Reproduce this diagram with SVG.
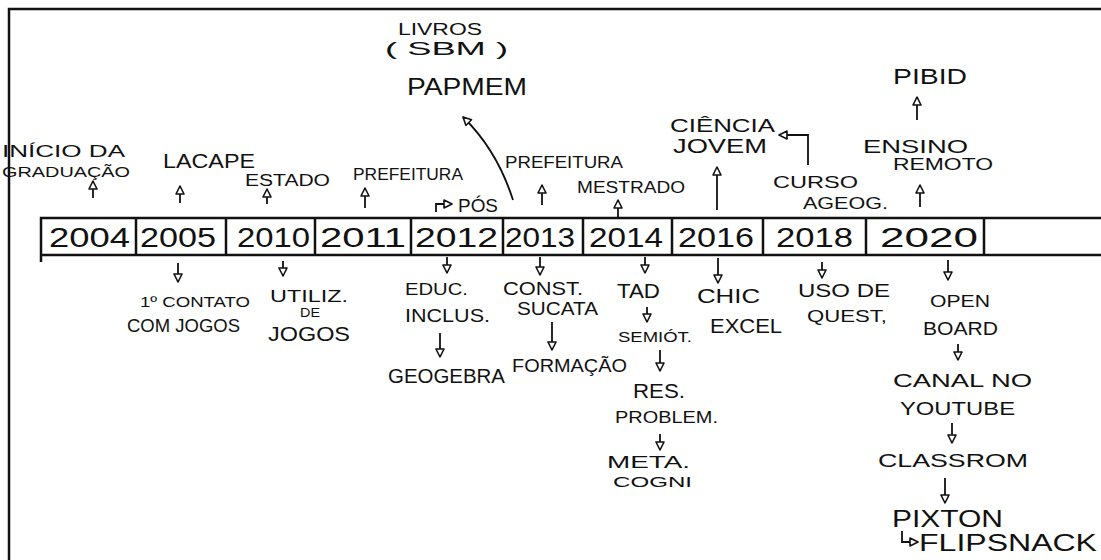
<svg xmlns="http://www.w3.org/2000/svg" width="1101" height="560" viewBox="0 0 1101 560">
<defs>
<marker id="tri" viewBox="0 0 10 10" markerUnits="userSpaceOnUse" markerWidth="10" markerHeight="10" refX="9" refY="5" orient="auto">
<path d="M1,1 L9,5 L1,9 Z" fill="#fff" stroke="#111" stroke-width="1.6" stroke-linejoin="round"/>
</marker>
</defs>
<style>
text{font-family:"Liberation Sans","DejaVu Sans",sans-serif;fill:#111}
.yr{font-size:27px}
.frame{stroke:#111;stroke-width:2.5;fill:none}
.tl{stroke:#111;stroke-width:2.5;fill:none}
.c line,.c path,.c polyline{stroke:#111;stroke-width:1.8;fill:none;marker-end:url(#tri)}
</style>
<rect width="1101" height="560" fill="#fff"/>
<g id="frame">
<path class="frame" d="M9,560 L9,9 L1101,9"/>
</g>
<g id="timeline">
<path class="tl" d="M41,262 L41,218 L1101,218 M41,255 L1101,255 M136,218 L136,255 M226,218 L226,255 M315,218 L315,255 M411,218 L411,255 M503,218 L503,255 M583,218 L583,255 M672,218 L672,255 M763,218 L763,255 M866,218 L866,255 M984,218 L984,255"/>
</g>
<g id="y2004"><text class="yr" x="49" y="247" textLength="81" lengthAdjust="spacingAndGlyphs">2004</text></g>
<g id="y2005"><text class="yr" x="140" y="247" textLength="76" lengthAdjust="spacingAndGlyphs">2005</text></g>
<g id="y2010"><text class="yr" x="237" y="247" textLength="73" lengthAdjust="spacingAndGlyphs">2010</text></g>
<g id="y2011"><text class="yr" x="320" y="247" textLength="86" lengthAdjust="spacingAndGlyphs">2011</text></g>
<g id="y2012"><text class="yr" x="415" y="247" textLength="83" lengthAdjust="spacingAndGlyphs">2012</text></g>
<g id="y2013"><text class="yr" x="505" y="247" textLength="70" lengthAdjust="spacingAndGlyphs">2013</text></g>
<g id="y2014"><text class="yr" x="589" y="247" textLength="74" lengthAdjust="spacingAndGlyphs">2014</text></g>
<g id="y2016"><text class="yr" x="678" y="247" textLength="76" lengthAdjust="spacingAndGlyphs">2016</text></g>
<g id="y2018"><text class="yr" x="776" y="247" textLength="77" lengthAdjust="spacingAndGlyphs">2018</text></g>
<g id="y2020"><text class="yr" x="880" y="247" textLength="98" lengthAdjust="spacingAndGlyphs">2020</text></g>

<g id="inicio">
<text x="2" y="157" font-size="16" textLength="123" lengthAdjust="spacingAndGlyphs">INÍCIO DA</text>
<text x="2" y="177" font-size="14" textLength="128" lengthAdjust="spacingAndGlyphs">GRADUAÇÃO</text>
</g>
<g id="lacape"><text x="163" y="168" font-size="20" textLength="92" lengthAdjust="spacingAndGlyphs">LACAPE</text></g>
<g id="estado"><text x="245" y="186" font-size="16" textLength="85" lengthAdjust="spacingAndGlyphs">ESTADO</text></g>
<g id="prefeitura2011"><text x="353" y="180" font-size="16" textLength="110" lengthAdjust="spacingAndGlyphs">PREFEITURA</text></g>
<g id="pos"><text x="458" y="212" font-size="18" textLength="40" lengthAdjust="spacingAndGlyphs">PÓS</text></g>
<g id="papmem"><text x="407" y="95" font-size="24" textLength="120" lengthAdjust="spacingAndGlyphs">PAPMEM</text></g>
<g id="livros">
<text x="398" y="35" font-size="16" textLength="84" lengthAdjust="spacingAndGlyphs">LIVROS</text>
<text x="385" y="55" font-size="18" textLength="123" lengthAdjust="spacingAndGlyphs">( SBM )</text>
</g>
<g id="prefeitura2013"><text x="505" y="168" font-size="17" textLength="118" lengthAdjust="spacingAndGlyphs">PREFEITURA</text></g>
<g id="mestrado"><text x="577" y="193" font-size="16" textLength="108" lengthAdjust="spacingAndGlyphs">MESTRADO</text></g>
<g id="cienciajovem">
<text x="670" y="132" font-size="18" textLength="105" lengthAdjust="spacingAndGlyphs">CIÊNCIA</text>
<text x="673" y="153" font-size="20" textLength="94" lengthAdjust="spacingAndGlyphs">JOVEM</text>
</g>
<g id="curso">
<text x="773" y="188" font-size="17" textLength="85" lengthAdjust="spacingAndGlyphs">CURSO</text>
<text x="803" y="209" font-size="17" textLength="85" lengthAdjust="spacingAndGlyphs">AGEOG.</text>
</g>
<g id="ensino">
<text x="863" y="153" font-size="18" textLength="105" lengthAdjust="spacingAndGlyphs">ENSINO</text>
<text x="893" y="170" font-size="17" textLength="100" lengthAdjust="spacingAndGlyphs">REMOTO</text>
</g>
<g id="pibid"><text x="893" y="84" font-size="22" textLength="74" lengthAdjust="spacingAndGlyphs">PIBID</text></g>

<g id="contato">
<text x="140" y="307" font-size="15" textLength="110" lengthAdjust="spacingAndGlyphs">1º CONTATO</text>
<text x="127" y="332" font-size="18" textLength="113" lengthAdjust="spacingAndGlyphs">COM JOGOS</text>
</g>
<g id="utiliz">
<text x="270" y="302" font-size="16" textLength="78" lengthAdjust="spacingAndGlyphs">UTILIZ.</text>
<text x="300" y="317" font-size="13" textLength="20" lengthAdjust="spacingAndGlyphs">DE</text>
<text x="268" y="341" font-size="21" textLength="82" lengthAdjust="spacingAndGlyphs">JOGOS</text>
</g>
<g id="educ">
<text x="405" y="295" font-size="17" textLength="63" lengthAdjust="spacingAndGlyphs">EDUC.</text>
<text x="405" y="322" font-size="18" textLength="85" lengthAdjust="spacingAndGlyphs">INCLUS.</text>
</g>
<g id="geogebra"><text x="388" y="383" font-size="20" textLength="117" lengthAdjust="spacingAndGlyphs">GEOGEBRA</text></g>
<g id="const">
<text x="503" y="295" font-size="18" textLength="80" lengthAdjust="spacingAndGlyphs">CONST.</text>
<text x="517" y="315" font-size="18" textLength="81" lengthAdjust="spacingAndGlyphs">SUCATA</text>
</g>
<g id="formacao"><text x="512" y="372" font-size="18" textLength="115" lengthAdjust="spacingAndGlyphs">FORMAÇÃO</text></g>
<g id="tad"><text x="617" y="298" font-size="21" textLength="43" lengthAdjust="spacingAndGlyphs">TAD</text></g>
<g id="semiot"><text x="618" y="342" font-size="15" textLength="74" lengthAdjust="spacingAndGlyphs">SEMIÓT.</text></g>
<g id="resproblem">
<text x="633" y="398" font-size="20" textLength="52" lengthAdjust="spacingAndGlyphs">RES.</text>
<text x="615" y="423" font-size="17" textLength="103" lengthAdjust="spacingAndGlyphs">PROBLEM.</text>
</g>
<g id="metacogni">
<text x="607" y="468" font-size="17" textLength="83" lengthAdjust="spacingAndGlyphs">META.</text>
<text x="613" y="487" font-size="15" textLength="79" lengthAdjust="spacingAndGlyphs">COGNI</text>
</g>
<g id="chic">
<text x="697" y="303" font-size="20" textLength="63" lengthAdjust="spacingAndGlyphs">CHIC</text>
<text x="710" y="333" font-size="20" textLength="72" lengthAdjust="spacingAndGlyphs">EXCEL</text>
</g>
<g id="usodequest">
<text x="798" y="297" font-size="19" textLength="92" lengthAdjust="spacingAndGlyphs">USO DE</text>
<text x="807" y="322" font-size="17" textLength="80" lengthAdjust="spacingAndGlyphs">QUEST,</text>
</g>
<g id="openboard">
<text x="930" y="307" font-size="17" textLength="60" lengthAdjust="spacingAndGlyphs">OPEN</text>
<text x="923" y="335" font-size="19" textLength="75" lengthAdjust="spacingAndGlyphs">BOARD</text>
</g>
<g id="canal">
<text x="893" y="387" font-size="19" textLength="139" lengthAdjust="spacingAndGlyphs">CANAL NO</text>
<text x="900" y="415" font-size="18" textLength="115" lengthAdjust="spacingAndGlyphs">YOUTUBE</text>
</g>
<g id="classrom"><text x="878" y="467" font-size="19" textLength="150" lengthAdjust="spacingAndGlyphs">CLASSROM</text></g>
<g id="pixton"><text x="892" y="527" font-size="23" textLength="111" lengthAdjust="spacingAndGlyphs">PIXTON</text></g>
<g id="flipsnack"><text x="919" y="551" font-size="23" textLength="178" lengthAdjust="spacingAndGlyphs">FLIPSNACK</text></g>

<g id="connectors" class="c">
<line x1="93" y1="198" x2="93" y2="181"/>
<line x1="180" y1="203" x2="180" y2="186"/>
<line x1="267" y1="204" x2="267" y2="189"/>
<line x1="365" y1="208" x2="365" y2="188"/>
<line x1="542" y1="205" x2="542" y2="185"/>
<line x1="618" y1="217" x2="618" y2="200"/>
<line x1="717" y1="210" x2="717" y2="167"/>
<line x1="920" y1="207" x2="920" y2="185"/>
<line x1="917" y1="120" x2="917" y2="97"/>
<line x1="178" y1="263" x2="178" y2="282"/>
<line x1="283" y1="261" x2="283" y2="276"/>
<line x1="447" y1="257" x2="447" y2="273"/>
<line x1="540" y1="257" x2="540" y2="275"/>
<line x1="645" y1="257" x2="645" y2="273"/>
<line x1="718" y1="258" x2="718" y2="283"/>
<line x1="822" y1="262" x2="822" y2="278"/>
<line x1="948" y1="260" x2="948" y2="280"/>
<line x1="440" y1="333" x2="440" y2="357"/>
<line x1="552" y1="322" x2="552" y2="350"/>
<line x1="647" y1="307" x2="647" y2="322"/>
<line x1="660" y1="350" x2="660" y2="371"/>
<line x1="660" y1="434" x2="660" y2="450"/>
<line x1="958" y1="344" x2="958" y2="360"/>
<line x1="952" y1="423" x2="952" y2="443"/>
<line x1="945" y1="478" x2="945" y2="503"/>
<path d="M436,212 L436,204 L452,204"/>
<path d="M513,200 Q497,150 463,117"/>
<polyline points="808,165 808,135 779,135"/>
<path d="M902,531 L902,542 L918,542"/>
</g>
</svg>
